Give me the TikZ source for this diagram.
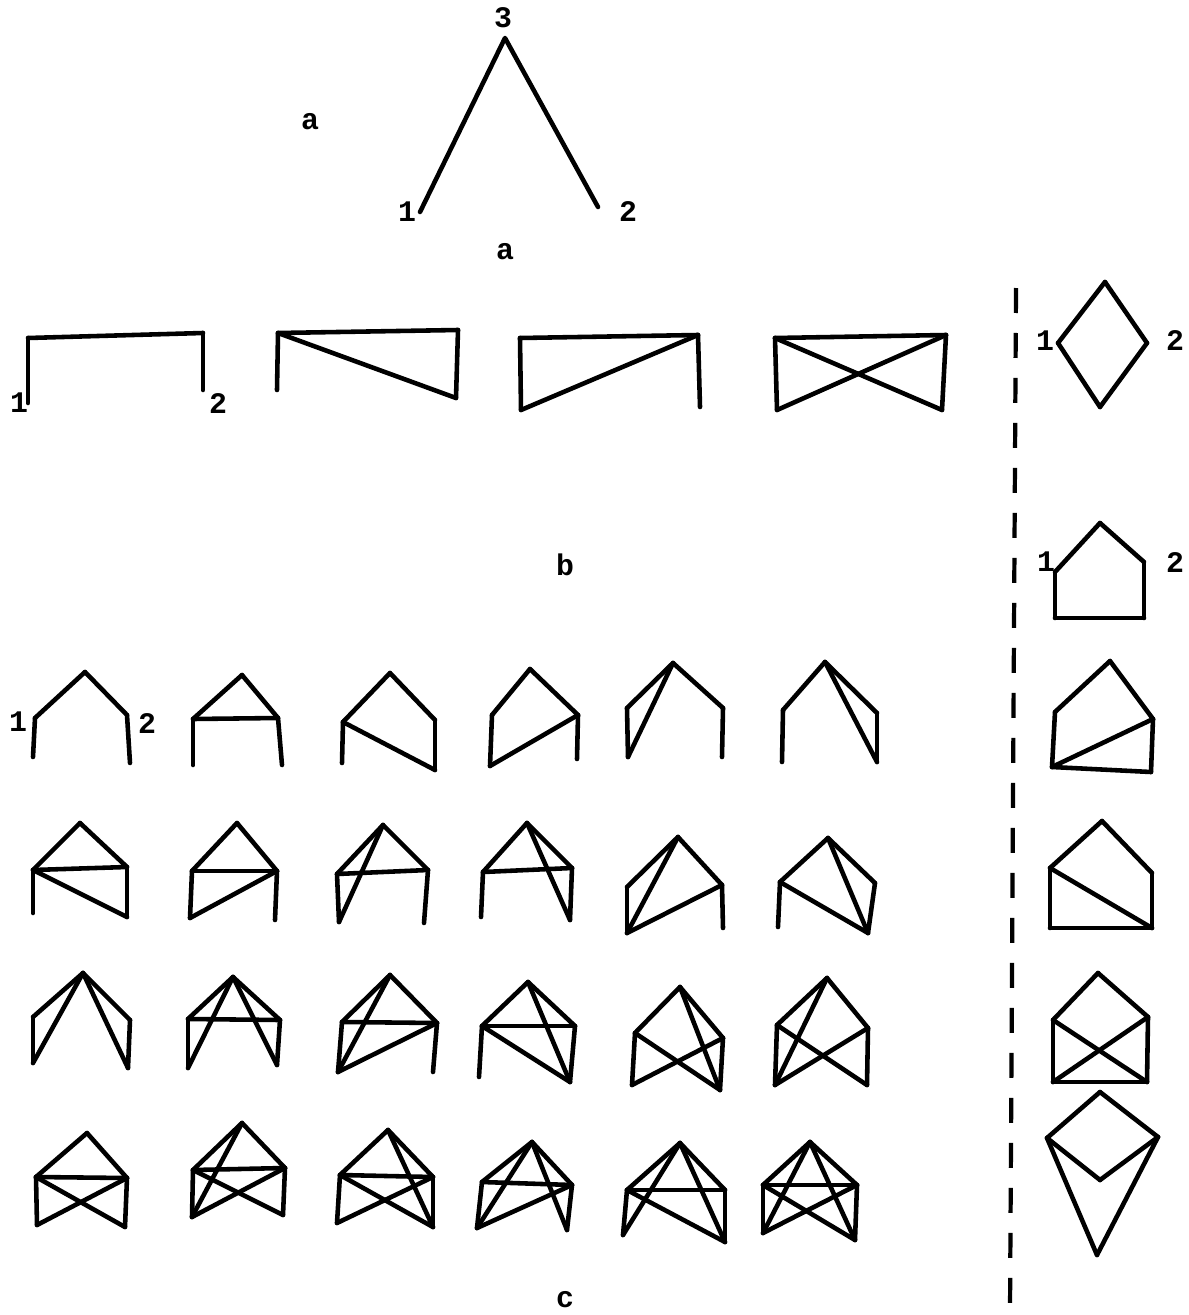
\documentclass[tikz,border=0pt]{standalone}
\usepackage{fontspec}
\setmonofont{Liberation Mono}
\usetikzlibrary{positioning}

\tikzset{
  stroke/.style={line width=2.6pt, line cap=round, line join=round},
  divider/.style={line width=2.4pt, dash pattern=on 0.5cm off 0.4cm},
  lbl/.style={font=\ttfamily\bfseries\fontsize{17}{19}\selectfont, inner sep=0pt},
}

% one little graph: name, top, left, right, lower left, lower right, edges
\newcommand{\hut}[7]{%
  \coordinate (#1-t) at (#2);
  \coordinate (#1-l) at (#3);
  \coordinate (#1-r) at (#4);
  \coordinate (#1-p) at (#5);
  \coordinate (#1-q) at (#6);
  \foreach \u/\v in {#7}{ \draw[stroke] (#1-\u) -- (#1-\v); }
}

\begin{document}
\begin{tikzpicture}[x=0.02cm,y=-0.02cm]
  \useasboundingbox (0,0) rectangle (1189,1315);

  % part a
  \coordinate (a-t) at (505,38);
  \coordinate (a-p) at (420,212);
  \coordinate (a-q) at (598,207);
  \draw[stroke] (a-p) -- (a-t) -- (a-q);
  \node[lbl] (a-three) at (503,18) {3};
  \node[lbl] (a-one) at (407,212) {1};
  \node[lbl] (a-two) at (628,212) {2};
  \node[lbl] (a-side) at (310,122) {a};
  \node[lbl] (a-cap) at (505,252) {a};

  % part b
  \hut{b1}{115,335}{28,338}{203,333}{28,403}{203,390}{p/l,l/r,r/q}
  \hut{b2}{368,332}{278,333}{458,330}{277,390}{456,398}{p/l,l/r,r/q,l/q}
  \hut{b3}{609,336}{520,338}{698,335}{521,410}{700,407}{p/l,l/r,r/q,p/r}
  \hut{b4}{860,336}{775,338}{946,335}{777,410}{942,410}{p/l,l/r,r/q,l/q,p/r}
  \node[lbl] (b1-one) at (19,403) {1};
  \node[lbl] (b1-two) at (218,404) {2};
  \node[lbl] (b-cap) at (565,565) {b};

  % part c, row 1
  \hut{c1}{85,672}{35,718}{127,715}{33,757}{130,763}{l/t,t/r,l/p,r/q}
  \hut{c2}{242,675}{193,719}{278,718}{193,765}{282,765}{l/t,t/r,l/p,r/q,l/r}
  \hut{c3}{390,673}{343,722}{435,720}{342,763}{435,770}{l/t,t/r,l/p,r/q,l/q}
  \hut{c4}{530,669}{492,715}{578,715}{490,766}{577,759}{l/t,t/r,l/p,r/q,p/r}
  \hut{c5}{673,663}{627,708}{723,708}{628,757}{722,757}{l/t,t/r,l/p,r/q,p/t}
  \hut{c6}{825,662}{783,710}{877,713}{782,762}{877,762}{l/t,t/r,l/p,r/q,t/q}
  \node[lbl] (c1-one) at (18,722) {1};
  \node[lbl] (c1-two) at (147,724) {2};

  % row 2
  \hut{c7}{80,823}{33,870}{127,867}{33,913}{127,917}{l/t,t/r,l/r,l/p,r/q,l/q}
  \hut{c8}{237,823}{192,871}{277,871}{190,918}{275,920}{l/t,t/r,l/r,l/p,r/q,p/r}
  \hut{c9}{383,825}{337,874}{428,870}{339,922}{424,923}{l/t,t/r,l/r,l/p,r/q,t/p}
  \hut{c10}{527,823}{483,872}{572,868}{481,917}{570,920}{l/t,t/r,l/r,l/p,r/q,t/q}
  \hut{c11}{678,837}{627,887}{722,885}{627,933}{723,928}{l/t,t/r,l/p,r/q,t/p,p/r}
  \hut{c12}{828,838}{780,882}{875,883}{778,927}{868,933}{l/t,t/r,l/p,r/q,l/q,t/q}

  % row 3
  \hut{c13}{83,973}{33,1017}{130,1020}{33,1063}{128,1068}{l/t,t/r,l/p,r/q,t/p,t/q}
  \hut{c14}{233,977}{188,1019}{280,1020}{188,1068}{277,1065}{l/t,t/r,l/r,l/p,r/q,t/p,t/q}
  \hut{c15}{390,975}{342,1022}{437,1023}{338,1072}{433,1072}{l/t,t/r,l/r,l/p,r/q,t/p,p/r}
  \hut{c16}{528,982}{482,1026}{575,1026}{479,1077}{570,1082}{l/t,t/r,l/r,l/p,r/q,l/q,t/q}
  \hut{c17}{680,987}{635,1033}{723,1038}{632,1085}{720,1090}{l/t,t/r,l/p,r/q,l/q,p/r,t/q}
  \hut{c18}{827,978}{777,1025}{868,1028}{775,1085}{867,1085}{l/t,t/r,l/p,r/q,l/q,p/r,t/p}

  % row 4
  \hut{c19}{87,1133}{36,1177}{127,1178}{37,1225}{125,1227}{l/t,t/r,l/r,l/p,r/q,l/q,p/r}
  \hut{c20}{242,1123}{193,1170}{285,1168}{192,1217}{283,1215}{l/t,t/r,l/r,l/p,r/q,l/q,p/r,t/p}
  \hut{c21}{388,1130}{340,1175}{433,1177}{337,1223}{433,1227}{l/t,t/r,l/r,l/p,r/q,l/q,p/r,t/q}
  \hut{c22}{532,1142}{482,1182}{572,1185}{477,1228}{567,1230}{l/t,t/r,l/r,l/p,r/q,t/p,p/r,t/q}
  \hut{c23}{680,1143}{627,1190}{725,1190}{623,1235}{725,1242}{l/t,t/r,l/r,l/p,r/q,t/p,l/q,t/q}
  \hut{c24}{810,1142}{763,1185}{857,1185}{763,1233}{855,1240}{l/t,t/r,l/r,l/p,r/q,t/p,t/q,l/q,p/r}
  \node[lbl] (c-cap) at (565,1300) {c};

  % divider
  \coordinate (div-top) at (1016,288);
  \coordinate (div-bot) at (1010,1312);
  \draw[divider] (div-top) -- (div-bot);

  % right column
  \hut{d1}{1105,282}{1058,343}{1147,343}{1100,407}{1100,407}{t/l,t/r,l/p,r/p}
  \node[lbl] (d1-one) at (1045,341) {1};
  \node[lbl] (d1-two) at (1175,341) {2};
  \hut{d2}{1100,523}{1055,572}{1144,562}{1055,618}{1144,618}{t/l,t/r,l/p,r/q,p/q}
  \node[lbl] (d2-one) at (1046,562) {1};
  \node[lbl] (d2-two) at (1175,563) {2};
  \hut{d3}{1110,661}{1055,712}{1153,719}{1052,767}{1151,772}{t/l,t/r,l/p,r/q,p/q,p/r}
  \hut{d4}{1102,821}{1050,868}{1152,873}{1050,928}{1152,928}{t/l,t/r,l/p,r/q,p/q,l/q}
  \hut{d5}{1098,973}{1053,1020}{1148,1017}{1053,1082}{1147,1082}{t/l,t/r,l/p,r/q,p/q,l/q,p/r}
  \hut{d6}{1100,1092}{1047,1138}{1158,1137}{1100,1180}{1097,1255}{t/l,t/r,l/p,p/r,l/q,r/q}
\end{tikzpicture}
\end{document}
